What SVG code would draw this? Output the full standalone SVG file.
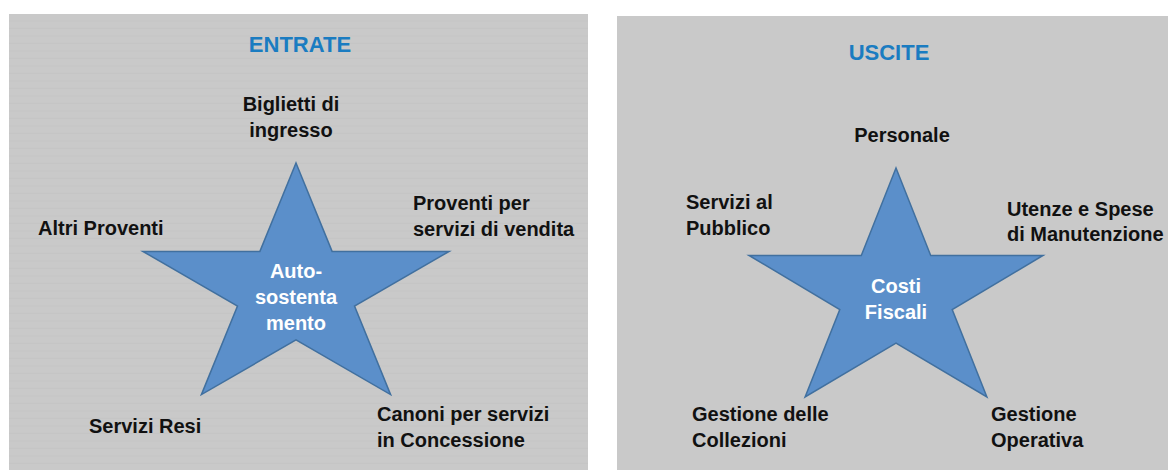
<svg xmlns="http://www.w3.org/2000/svg" width="1168" height="470" viewBox="0 0 1168 470">
  <defs>
    <pattern id="stripes" x="0" y="14" width="8" height="7.5" patternUnits="userSpaceOnUse">
      <rect width="8" height="7.5" fill="#c9c9c9"/>
      <rect y="6.5" width="8" height="1" fill="#c5c5c5"/>
    </pattern>
  </defs>
  <style>
    .panel-l { fill: url(#stripes); }
    .panel-r { fill: #c9c9c9; }
    .star { fill: #5b8fca; stroke: #41709f; stroke-width: 1.5; stroke-linejoin: miter; }
    .title { font-family: "Liberation Sans", Arial, sans-serif; font-weight: bold; font-size: 22px; fill: #1a7cc1; text-anchor: middle; }
    .lbl { font-family: "Liberation Sans", Arial, sans-serif; font-weight: bold; font-size: 20px; fill: #111111; }
    .mid { text-anchor: middle; }
    .ctr { font-family: "Liberation Sans", Arial, sans-serif; font-weight: bold; font-size: 20px; fill: #ffffff; text-anchor: middle; }
  </style>
  <rect width="1168" height="470" fill="#ffffff"/>

  <g id="panel-entrate">
    <rect class="panel-l" x="9" y="14" width="579" height="456"/>
    <text class="title" x="300" y="52">ENTRATE</text>
  </g>
  <g id="panel-uscite">
    <rect class="panel-r" x="617" y="16" width="551" height="454"/>
    <text class="title" x="889" y="60">USCITE</text>
  </g>

  <g id="connectors"></g>

  <g id="star-entrate">
    <polygon class="star" points="296,163 332.1,251.4 449.1,251.4 354.5,306.1 390.6,394.6 296,339.9 201.4,394.6 237.5,306.1 142.9,251.4 259.9,251.4"/>
    <text class="ctr" x="296" y="278">Auto-</text>
    <text class="ctr" x="296" y="304">sostenta</text>
    <text class="ctr" x="296" y="330">mento</text>
  </g>
  <g id="label-biglietti">
    <text class="lbl mid" x="291" y="111">Biglietti di</text>
    <text class="lbl mid" x="291" y="137">ingresso</text>
  </g>
  <g id="label-proventi-vendita">
    <text class="lbl" x="413" y="210">Proventi per</text>
    <text class="lbl" x="413" y="236">servizi di vendita</text>
  </g>
  <g id="label-altri-proventi">
    <text class="lbl" x="38" y="235">Altri Proventi</text>
  </g>
  <g id="label-servizi-resi">
    <text class="lbl" x="89" y="433">Servizi Resi</text>
  </g>
  <g id="label-canoni">
    <text class="lbl" x="377" y="421">Canoni per servizi</text>
    <text class="lbl" x="377" y="447">in Concessione</text>
  </g>

  <g id="star-uscite">
    <polygon class="star" points="896,168 930.7,255.5 1043,255.5 952.2,309.5 986.9,397 896,343 805.1,397 839.8,309.5 749,255.5 861.3,255.5"/>
    <text class="ctr" x="896" y="293">Costi</text>
    <text class="ctr" x="896" y="319">Fiscali</text>
  </g>
  <g id="label-personale">
    <text class="lbl mid" x="902" y="142">Personale</text>
  </g>
  <g id="label-servizi-pubblico">
    <text class="lbl" x="686" y="209">Servizi al</text>
    <text class="lbl" x="686" y="235">Pubblico</text>
  </g>
  <g id="label-utenze">
    <text class="lbl" x="1007" y="216">Utenze e Spese</text>
    <text class="lbl" x="1007" y="241">di Manutenzione</text>
  </g>
  <g id="label-gestione-collezioni">
    <text class="lbl" x="692" y="421">Gestione delle</text>
    <text class="lbl" x="692" y="447">Collezioni</text>
  </g>
  <g id="label-gestione-operativa">
    <text class="lbl" x="991" y="421">Gestione</text>
    <text class="lbl" x="991" y="447">Operativa</text>
  </g>
</svg>
